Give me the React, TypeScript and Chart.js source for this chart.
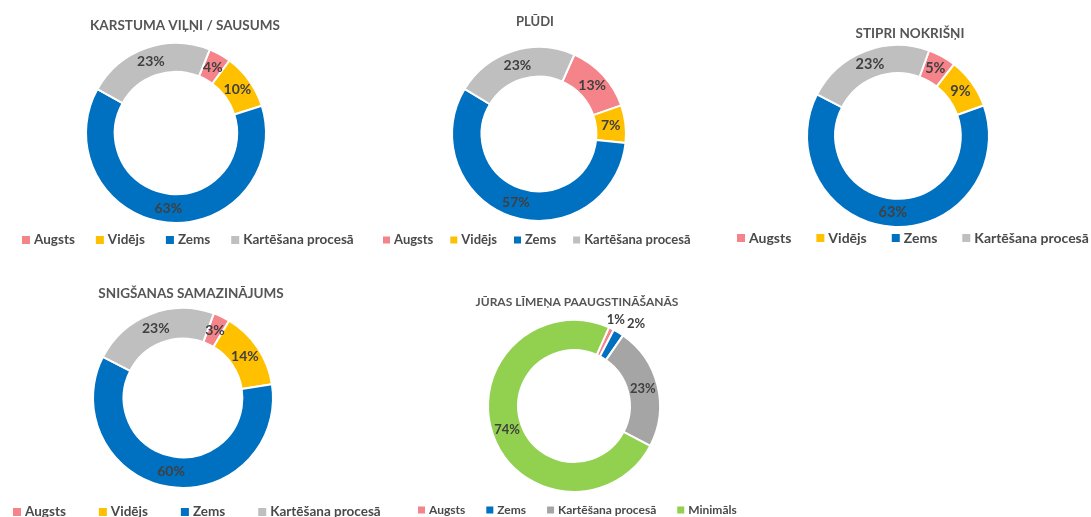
import { useEffect, useRef } from 'react';
import { Chart, registerables } from 'chart.js';

Chart.register(...registerables);

// ---- data ----
const riskLabels = ['Augsts', 'Vidējs', 'Zems', 'Kartēšana procesā'];
const seaLabels = ['Augsts', 'Zems', 'Kartēšana procesā', 'Minimāls'];

const heatValues = [4, 10, 63, 23];
const floodValues = [13, 7, 57, 23];
const rainValues = [5, 9, 63, 23];
const snowValues = [3, 14, 60, 23];
const seaValues = [1, 2, 23, 74];

const heatTitle = 'KARSTUMA VIĻŅI / SAUSUMS';
const floodTitle = 'PLŪDI';
const rainTitle = 'STIPRI NOKRIŠŅI';
const snowTitle = 'SNIGŠANAS SAMAZINĀJUMS';
const seaTitle = 'JŪRAS LĪMEŅA PAAUGSTINĀŠANĀS';

const riskColors = ['#F4838A', '#FFC000', '#0070C0', '#BFBFBF'];
const seaColors = ['#F4838A', '#0070C0', '#A5A5A5', '#92D050'];

const FONT = 'Lato, "Open Sans", sans-serif';

type Panel = {
  labels: string[];
  values: number[];
  colors: string[];
  title: string;
  box: [number, number, number, number];
  center: [number, number];
  radius: number;
  cutout: string;
  rotation: number;
  titlePos: [number, number];
  titleSize: number;
  legendPos: [number, number];
  legendSize: number;
  legendGap: number;
  labelSize: number;
};

const panels: Panel[] = [
  {
    labels: riskLabels, values: heatValues, colors: riskColors, title: heatTitle,
    box: [0, 0, 370, 260], center: [176, 133], radius: 90, cutout: '68%', rotation: 22,
    titlePos: [185, 26], titleSize: 13.5,
    legendPos: [22, 240], legendSize: 13.5, legendGap: 21, labelSize: 14,
  },
  {
    labels: riskLabels, values: floodValues, colors: riskColors, title: floodTitle,
    box: [370, 0, 340, 260], center: [539, 134], radius: 87, cutout: '66%', rotation: 24,
    titlePos: [535, 22], titleSize: 13,
    legendPos: [383, 240], legendSize: 13, legendGap: 17, labelSize: 14,
  },
  {
    labels: riskLabels, values: rainValues, colors: riskColors, title: rainTitle,
    box: [710, 0, 381, 260], center: [898, 136], radius: 91, cutout: '69%', rotation: 20,
    titlePos: [910, 34], titleSize: 13.5,
    legendPos: [737, 238], legendSize: 14, legendGap: 25, labelSize: 14.5,
  },
  {
    labels: riskLabels, values: snowValues, colors: riskColors, title: snowTitle,
    box: [0, 260, 400, 257], center: [183, 398], radius: 90, cutout: '66%', rotation: 20,
    titlePos: [191, 294], titleSize: 13.5,
    legendPos: [13, 512], legendSize: 13.5, legendGap: 33, labelSize: 14,
  },
  {
    labels: seaLabels, values: seaValues, colors: seaColors, title: seaTitle,
    box: [400, 260, 360, 257], center: [574, 406], radius: 86, cutout: '65%', rotation: 24,
    titlePos: [577, 302], titleSize: 12,
    legendPos: [418, 510], legendSize: 12, legendGap: 21, labelSize: 13,
  },
];

function DonutPanel({ p }: { p: Panel }) {
  const ref = useRef<HTMLCanvasElement>(null);

  useEffect(() => {
    const canvas = ref.current;
    if (!canvas) return;
    const [bx, by, bw, bh] = p.box;
    const lx = p.center[0] - bx;
    const ly = p.center[1] - by;
    const half = p.radius + 3;

    const textPlugin = {
      id: 'panelText',
      afterDatasetsDraw(chart: any) {
        const ctx: CanvasRenderingContext2D = chart.ctx;
        const meta = chart.getDatasetMeta(0);
        const total = p.values.reduce((a, b) => a + b, 0);
        ctx.save();
        ctx.font = `bold ${p.labelSize}px ${FONT}`;
        ctx.fillStyle = '#404040';
        ctx.textBaseline = 'middle';
        ctx.textAlign = 'center';
        let prevRight = -Infinity;
        meta.data.forEach((arc: any, i: number) => {
          const { startAngle, endAngle, innerRadius, outerRadius, x, y } = arc.getProps(
            ['startAngle', 'endAngle', 'innerRadius', 'outerRadius', 'x', 'y'], true);
          const mid = (startAngle + endAngle) / 2;
          const v = p.values[i];
          const text = `${Math.round((v / total) * 100)}%`;
          const w = ctx.measureText(text).width;
          if (v < 3) {
            const r = outerRadius + 10;
            let tx = x + Math.cos(mid) * r;
            const ty = y + Math.sin(mid) * r;
            if (tx - w / 2 < prevRight + 2) tx = prevRight + 2 + w / 2;
            prevRight = tx + w / 2;
            ctx.fillText(text, tx, ty);
          } else {
            const r = (innerRadius + outerRadius) / 2;
            ctx.fillText(text, x + Math.cos(mid) * r, y + Math.sin(mid) * r);
          }
        });
        ctx.restore();
      },
      afterDraw(chart: any) {
        const ctx: CanvasRenderingContext2D = chart.ctx;
        ctx.save();
        // title
        ctx.font = `bold ${p.titleSize}px ${FONT}`;
        ctx.fillStyle = '#555555';
        ctx.textAlign = 'center';
        ctx.textBaseline = 'middle';
        ctx.fillText(p.title, p.titlePos[0] - bx, p.titlePos[1] - by);
        // legend
        ctx.font = `bold ${p.legendSize}px ${FONT}`;
        ctx.textAlign = 'left';
        const s = Math.round(p.legendSize * 0.56);
        let x = p.legendPos[0] - bx;
        const y = p.legendPos[1] - by;
        p.labels.forEach((label, i) => {
          ctx.fillStyle = p.colors[i];
          ctx.fillRect(x, y - s / 2, s, s);
          x += s + 4;
          ctx.fillStyle = '#4a4a4a';
          ctx.fillText(label, x, y);
          x += ctx.measureText(label).width + p.legendGap;
        });
        ctx.restore();
      },
    };

    const chart = new Chart(canvas, {
      type: 'doughnut',
      data: {
        labels: p.labels,
        datasets: [
          {
            data: p.values,
            backgroundColor: p.colors,
            borderColor: '#ffffff',
            borderWidth: 2,
            hoverOffset: 0,
          },
        ],
      },
      options: {
        responsive: false,
        animation: false,
        events: [],
        rotation: p.rotation,
        radius: p.radius,
        cutout: p.cutout,
        layout: {
          padding: {
            left: lx - half,
            right: bw - lx - half,
            top: ly - half,
            bottom: bh - ly - half,
          },
        },
        plugins: {
          legend: { display: false },
          title: { display: false },
          tooltip: { enabled: false },
        },
      } as any,
      plugins: [textPlugin],
    });

    return () => chart.destroy();
  }, [p]);

  const [bx, by, bw, bh] = p.box;
  return (
    <canvas
      ref={ref}
      width={bw}
      height={bh}
      style={{ position: 'absolute', left: bx, top: by, width: bw, height: bh }}
    />
  );
}

export default function App() {
  return (
    <div
      style={{
        position: 'absolute',
        left: 0,
        top: 0,
        width: 1091,
        height: 517,
        background: '#ffffff',
        overflow: 'hidden',
      }}
    >
      {panels.map((p, i) => (
        <DonutPanel key={i} p={p} />
      ))}
    </div>
  );
}
